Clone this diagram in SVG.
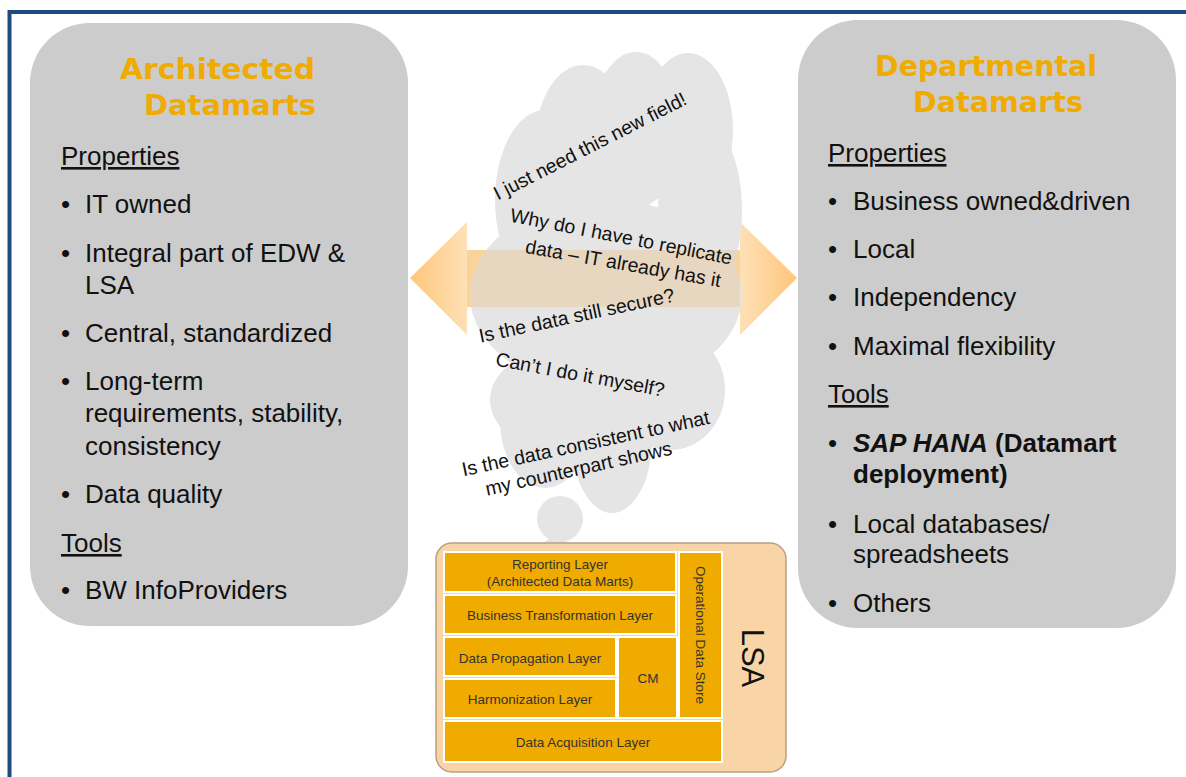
<svg xmlns="http://www.w3.org/2000/svg" width="1186" height="777" viewBox="0 0 1186 777">
<defs>
<style>
.box{fill:#cccccc}
.title{font-family:"DejaVu Sans",sans-serif;font-weight:bold;font-size:29px;fill:#f0ab00}
.body{font-family:"Liberation Sans",Arial,sans-serif;font-size:26px;fill:#111}
.hd{text-decoration:underline}
.cl{font-family:"Liberation Sans",Arial,sans-serif;font-size:19.5px;fill:#111;text-anchor:middle}
.cloud{fill:#e5e5e5}
.layer{fill:#f0ab00;stroke:#ffffff;stroke-width:2}
.lt{font-family:"Liberation Sans",Arial,sans-serif;font-size:13.5px;fill:#333;text-anchor:middle}
</style>
<linearGradient id="ag" gradientUnits="userSpaceOnUse" x1="410" y1="0" x2="797" y2="0">
<stop offset="0" stop-color="#ffc67a"/>
<stop offset="0.147" stop-color="#fde0b6"/>
<stop offset="0.853" stop-color="#fde0b6"/>
<stop offset="1" stop-color="#ffc67a"/>
</linearGradient>
</defs>
<rect width="1186" height="777" fill="#ffffff"/>
<g id="frame" fill="none" stroke="#1f4a80" stroke-width="4">
<line x1="9.5" y1="12" x2="1186" y2="12"/>
<line x1="9.5" y1="10" x2="9.5" y2="777"/>
</g>

<g id="architected">
<rect class="box" x="30" y="23" width="378" height="603" rx="60" ry="60"/>
<text class="title" x="120" y="79" textLength="195" lengthAdjust="spacingAndGlyphs">Architected</text>
<text class="title" x="144" y="115" textLength="172" lengthAdjust="spacingAndGlyphs">Datamarts</text>
<text class="body hd" x="61" y="165">Properties</text>
<text class="body" x="61" y="213">•</text><text class="body" x="85" y="213">IT owned</text>
<text class="body" x="61" y="262">•</text><text class="body" x="85" y="262">Integral part of EDW &amp;</text>
<text class="body" x="85" y="294">LSA</text>
<text class="body" x="61" y="342">•</text><text class="body" x="85" y="342">Central, standardized</text>
<text class="body" x="61" y="390">•</text><text class="body" x="85" y="390">Long-term</text>
<text class="body" x="85" y="422">requirements, stability,</text>
<text class="body" x="85" y="455">consistency</text>
<text class="body" x="61" y="503">•</text><text class="body" x="85" y="503">Data quality</text>
<text class="body hd" x="61" y="552">Tools</text>
<text class="body" x="61" y="599">•</text><text class="body" x="85" y="599">BW InfoProviders</text>
</g>

<g id="departmental">
<rect class="box" x="798" y="20" width="378" height="608" rx="60" ry="60"/>
<text class="title" x="875" y="76" textLength="222" lengthAdjust="spacingAndGlyphs">Departmental</text>
<text class="title" x="913" y="112" textLength="170" lengthAdjust="spacingAndGlyphs">Datamarts</text>
<text class="body hd" x="828" y="162">Properties</text>
<text class="body" x="828" y="210">•</text><text class="body" x="853" y="210">Business owned&amp;driven</text>
<text class="body" x="828" y="258">•</text><text class="body" x="853" y="258">Local</text>
<text class="body" x="828" y="306">•</text><text class="body" x="853" y="306">Independency</text>
<text class="body" x="828" y="355">•</text><text class="body" x="853" y="355">Maximal flexibility</text>
<text class="body hd" x="828" y="403">Tools</text>
<text class="body" x="828" y="452">•</text><text class="body" x="853" y="452" font-weight="bold" font-size="24"><tspan font-style="italic">SAP HANA</tspan> (Datamart</text>
<text class="body" x="853" y="483" font-weight="bold" font-size="24">deployment)</text>
<text class="body" x="828" y="533">•</text><text class="body" x="853" y="533">Local databases/</text>
<text class="body" x="853" y="563">spreadsheets</text>
<text class="body" x="828" y="612">•</text><text class="body" x="853" y="612">Others</text>
</g>

<g id="connectors">
<polygon id="double-arrow" points="410,278 467,222 467,250 740,250 740,222 797,278 740,335 740,307 467,307 467,335" fill="url(#ag)"/>
</g>

<g id="cloud">
<ellipse class="cloud" cx="583" cy="145" rx="48" ry="80"/>
<ellipse class="cloud" cx="636" cy="130" rx="45" ry="78"/>
<ellipse class="cloud" cx="688" cy="130" rx="45" ry="77"/>
<ellipse class="cloud" cx="545" cy="200" rx="50" ry="90"/>
<ellipse class="cloud" cx="700" cy="210" rx="42" ry="90"/>
<ellipse class="cloud" cx="606" cy="295" rx="136" ry="95"/>
<ellipse class="cloud" cx="545" cy="420" rx="45" ry="68"/>
<ellipse class="cloud" cx="612" cy="440" rx="40" ry="73"/>
<ellipse class="cloud" cx="670" cy="390" rx="55" ry="60"/>
<ellipse class="cloud" cx="590" cy="400" rx="100" ry="60"/>
<circle class="cloud" cx="560" cy="519" r="23"/>
<circle class="cloud" cx="556" cy="556" r="18"/>
<rect x="467" y="250" width="273" height="57" fill="#f0a030" opacity="0.2"/>
<text class="cl" transform="translate(593,152) rotate(-27)">I just need this new field!</text>
<text class="cl" transform="translate(620,243) rotate(11)">Why do I have to replicate</text>
<text class="cl" transform="translate(622,270) rotate(10)">data – IT already has it</text>
<text class="cl" transform="translate(578,322) rotate(-12)">Is the data still secure?</text>
<text class="cl" transform="translate(579,381) rotate(10.5)">Can’t I do it myself?</text>
<text class="cl" transform="translate(587,450) rotate(-12)">Is the data consistent to what</text>
<text class="cl" transform="translate(580,475) rotate(-12.5)">my counterpart shows</text>
</g>

<g id="lsa">
<rect x="436" y="543" width="350" height="229" rx="16" ry="16" fill="#f8d4a6" stroke="#b8a080" stroke-width="1.5"/>
<g id="reporting-layer"><rect class="layer" x="444" y="552" width="232" height="40"/>
<text class="lt" x="560" y="569">Reporting Layer</text><text class="lt" x="560" y="586">(Architected Data Marts)</text></g>
<g id="business-transformation-layer"><rect class="layer" x="444" y="595" width="232" height="39"/>
<text class="lt" x="560" y="620">Business Transformation Layer</text></g>
<g id="data-propagation-layer"><rect class="layer" x="444" y="637" width="172" height="39"/>
<text class="lt" x="530" y="663">Data Propagation Layer</text></g>
<g id="harmonization-layer"><rect class="layer" x="444" y="679" width="172" height="39"/>
<text class="lt" x="530" y="704">Harmonization Layer</text></g>
<g id="cm"><rect class="layer" x="618" y="637" width="59" height="81"/>
<text class="lt" x="648" y="683">CM</text></g>
<g id="ods"><rect class="layer" x="679" y="552" width="43" height="166"/>
<text class="lt" transform="translate(696,635) rotate(90)">Operational Data Store</text></g>
<g id="data-acquisition-layer"><rect class="layer" x="444" y="721" width="278" height="41"/>
<text class="lt" x="583" y="747">Data Acquisition Layer</text></g>
<text font-family="Liberation Sans, Arial, sans-serif" font-size="31" fill="#111" text-anchor="middle" transform="translate(742,658) rotate(90)">LSA</text>
</g>
</svg>
